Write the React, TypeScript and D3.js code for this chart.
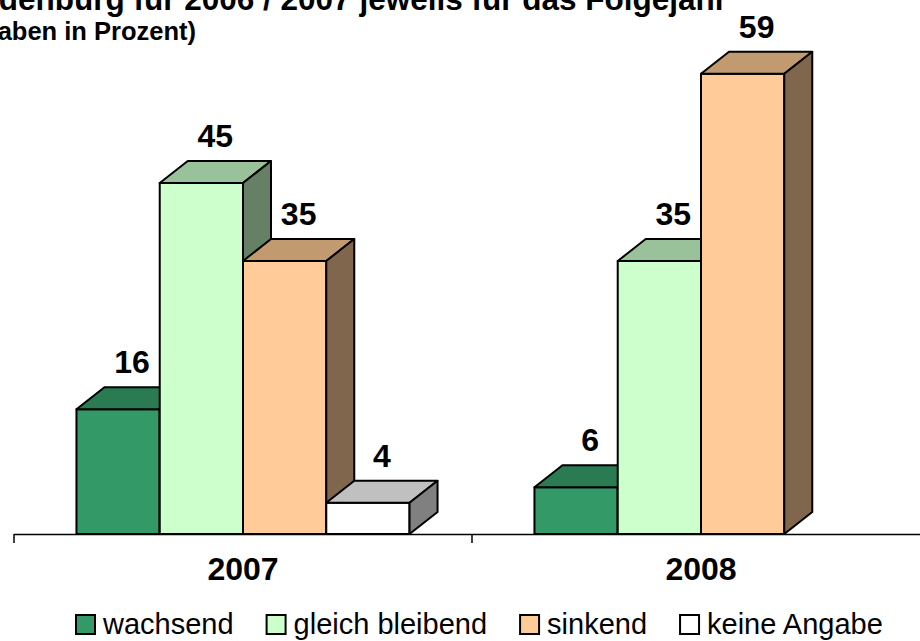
import React, { useEffect, useRef } from "react";
import * as d3 from "d3";

const categories = ["2007", "2008"];
const series = ["wachsend", "gleich bleibend", "sinkend", "keine Angabe"];
const values2007 = [16, 45, 35, 4];
const values2008 = [6, 35, 59, null];

const titleLine1 =
  "Beschäftigungserwartungen der Betriebe in Brandenburg für 2006 / 2007 jeweils für das Folgejahr";
const titleLine2 = "(Angaben in Prozent)";

const frontColors = ["#339966", "#CCFFCC", "#FFCC99", "#FFFFFF"];
const topColors = ["#2A7A52", "#99C29A", "#C29A70", "#C0C0C0"];
const sideColors = ["#1F5C3D", "#668066", "#80664D", "#808080"];

const FONT = "'Liberation Sans', Arial, sans-serif";

const App = () => {
  const svgRef = useRef(null);

  useEffect(() => {
    const svg = d3.select(svgRef.current);
    svg.selectAll("*").remove();

    const width = 920;
    const baseY = 534;
    const depthX = 28;
    const depthY = 22;

    const x = d3.scaleBand().domain(categories).range([14, 930]);
    const xSub = d3
      .scaleBand()
      .domain(series)
      .range([0, x.bandwidth()])
      .paddingInner(0)
      .paddingOuter(0.75);
    const y = d3.scaleLinear().domain([0, 60]).range([baseY, 66]);

    const rows = [values2007, values2008];

    // title (cropped in the original)
    svg
      .append("text")
      .attr("x", 727)
      .attr("y", 10)
      .attr("text-anchor", "end")
      .attr("font-family", FONT)
      .attr("font-weight", "bold")
      .attr("font-size", 31.5)
      .text(titleLine1);
    svg
      .append("text")
      .attr("x", 196)
      .attr("y", 40)
      .attr("text-anchor", "end")
      .attr("font-family", FONT)
      .attr("font-weight", "bold")
      .attr("font-size", 25.5)
      .text(titleLine2);

    // axis
    const axis = svg.append("g");
    axis
      .append("line")
      .attr("x1", 14)
      .attr("x2", width)
      .attr("y1", baseY + 0.5)
      .attr("y2", baseY + 0.5)
      .attr("stroke", "#000")
      .attr("stroke-width", 1.5);
    categories.forEach((c) => {
      axis
        .append("line")
        .attr("x1", x(c))
        .attr("x2", x(c))
        .attr("y1", baseY)
        .attr("y2", baseY + 9)
        .attr("stroke", "#000")
        .attr("stroke-width", 1.5);
      axis
        .append("text")
        .attr("x", x(c) + x.bandwidth() / 2)
        .attr("y", 580)
        .attr("text-anchor", "middle")
        .attr("font-family", FONT)
        .attr("font-weight", "bold")
        .attr("font-size", 32)
        .text(c);
    });

    // 3d bars
    const bars = svg
      .append("g")
      .attr("stroke", "#000")
      .attr("stroke-width", 2)
      .attr("stroke-linejoin", "round");
    categories.forEach((c, ci) => {
      rows[ci].forEach((v, si) => {
        if (v == null) return;
        const x0 = x(c) + xSub(series[si]);
        const x1 = x0 + xSub.bandwidth();
        const yt = y(v);
        const g = bars.append("g");
        g.append("rect")
          .attr("x", x0)
          .attr("y", yt)
          .attr("width", x1 - x0)
          .attr("height", baseY - yt)
          .attr("fill", frontColors[si]);
        g.append("path")
          .attr(
            "d",
            `M${x0},${yt}L${x1},${yt}L${x1 + depthX},${yt - depthY}L${x0 + depthX},${yt - depthY}Z`
          )
          .attr("fill", topColors[si]);
        g.append("path")
          .attr(
            "d",
            `M${x1},${yt}L${x1 + depthX},${yt - depthY}L${x1 + depthX},${baseY - depthY}L${x1},${baseY}Z`
          )
          .attr("fill", sideColors[si]);
      });
    });

    // value labels
    categories.forEach((c, ci) => {
      rows[ci].forEach((v, si) => {
        if (v == null) return;
        const cx = x(c) + xSub(series[si]) + xSub.bandwidth() / 2 + depthX / 2;
        svg
          .append("text")
          .attr("x", cx)
          .attr("y", y(v) - depthY - 14)
          .attr("text-anchor", "middle")
          .attr("font-family", FONT)
          .attr("font-weight", "bold")
          .attr("font-size", 32)
          .text(v);
      });
    });

    // legend
    const legend = svg.append("g");
    let lx = 76;
    series.forEach((s, i) => {
      legend
        .append("rect")
        .attr("x", lx)
        .attr("y", 615)
        .attr("width", 19)
        .attr("height", 19)
        .attr("fill", frontColors[i])
        .attr("stroke", "#000")
        .attr("stroke-width", 2);
      const t = legend
        .append("text")
        .attr("x", lx + 27)
        .attr("y", 634)
        .attr("font-family", FONT)
        .attr("font-size", 29)
        .text(s);
      const w = t.node().getComputedTextLength();
      lx = lx + 27 + w + 33;
    });
  }, []);

  return (
    <svg
      ref={svgRef}
      width={920}
      height={641}
      style={{ position: "absolute", left: 0, top: 0, background: "#fff" }}
    />
  );
};

export default App;
